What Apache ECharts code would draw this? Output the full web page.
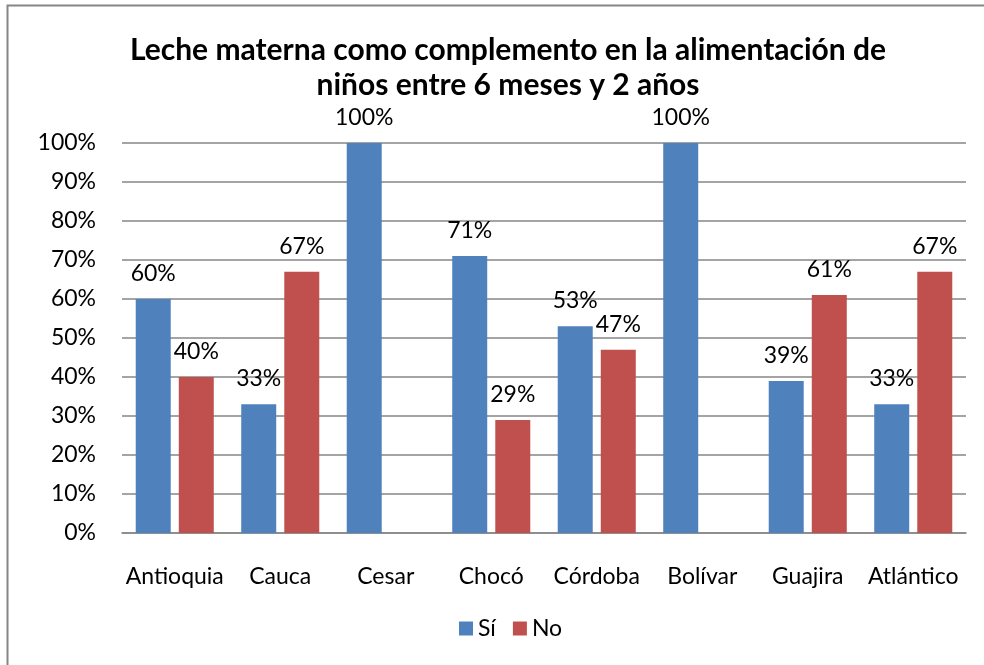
<!DOCTYPE html>
<html lang="es">
<head>
    <meta charset="UTF-8">
    <title>Leche materna</title>
    <script src="https://cdn.jsdelivr.net/npm/echarts@6/dist/echarts.min.js"></script>
    <style>
        html, body { margin: 0; padding: 0; background: #fff; }
        #chart { width: 984px; height: 665px; }
    </style>
</head>
<body>
    <div id="chart"></div>
    <script type="text/javascript">
        // datos
        var categorias = ['Antioquia', 'Cauca', 'Cesar', 'Chocó', 'Córdoba', 'Bolívar', 'Guajira', 'Atlántico'];
        var valoresSi = [60, 33, 100, 71, 53, 100, 39, 33];
        var valoresNo = [40, 67, 0, 29, 47, 0, 61, 67];
        var titulo = 'Leche materna como complemento en la alimentación de\nniños entre 6 meses y 2 años';

        var fuente = 'Lato, "Open Sans", sans-serif';

        var myChart = echarts.init(document.getElementById('chart'));

        // no se muestra etiqueta cuando el valor es 0
        function etiqueta(p) {
            return p.value === 0 ? '' : p.value + '%';
        }

        var option = {
            backgroundColor: '#fff',
            textStyle: { fontFamily: fuente },
            title: {
                text: titulo,
                left: 503,
                top: 28,
                textAlign: 'center',
                textStyle: {
                    fontFamily: fuente,
                    fontSize: 30,
                    fontWeight: 'bold',
                    color: '#000',
                    lineHeight: 35
                }
            },
            graphic: [{
                type: 'rect',
                shape: { x: 7.5, y: 5.5, width: 1000, height: 700 },
                style: { fill: 'none', stroke: '#868686', lineWidth: 2 },
                silent: true
            }],
            legend: {
                data: ['Sí', 'No'],
                left: 454,
                top: 612,
                itemWidth: 14,
                itemHeight: 14,
                itemGap: 17,
                icon: 'rect',
                textStyle: { fontFamily: fuente, fontSize: 23, color: '#000' }
            },
            grid: { left: 122, right: 18, top: 143, bottom: 132 },
            xAxis: {
                type: 'category',
                data: categorias,
                axisTick: { show: false },
                axisLine: { lineStyle: { color: '#868686', width: 1.5 } },
                axisLabel: { interval: 0, fontFamily: fuente, fontSize: 23, color: '#000', margin: 32 }
            },
            yAxis: {
                type: 'value',
                min: 0,
                max: 100,
                interval: 10,
                axisLine: { show: false },
                axisTick: { show: false },
                splitLine: { lineStyle: { color: '#868686', width: 1.5 } },
                axisLabel: { fontFamily: fuente, fontSize: 23, color: '#000', margin: 26, formatter: '{value}%' }
            },
            series: [
                {
                    name: 'Sí',
                    type: 'bar',
                    data: valoresSi,
                    barWidth: 35,
                    barGap: '23%',
                    itemStyle: { color: '#4F81BD' },
                    label: { show: true, position: 'top', distance: 14, fontFamily: fuente, fontSize: 23, color: '#000', formatter: etiqueta }
                },
                {
                    name: 'No',
                    type: 'bar',
                    data: valoresNo,
                    barWidth: 35,
                    itemStyle: { color: '#C0504D' },
                    label: { show: true, position: 'top', distance: 14, fontFamily: fuente, fontSize: 23, color: '#000', formatter: etiqueta }
                }
            ]
        };

        myChart.setOption(option);
    </script>
</body>
</html>
